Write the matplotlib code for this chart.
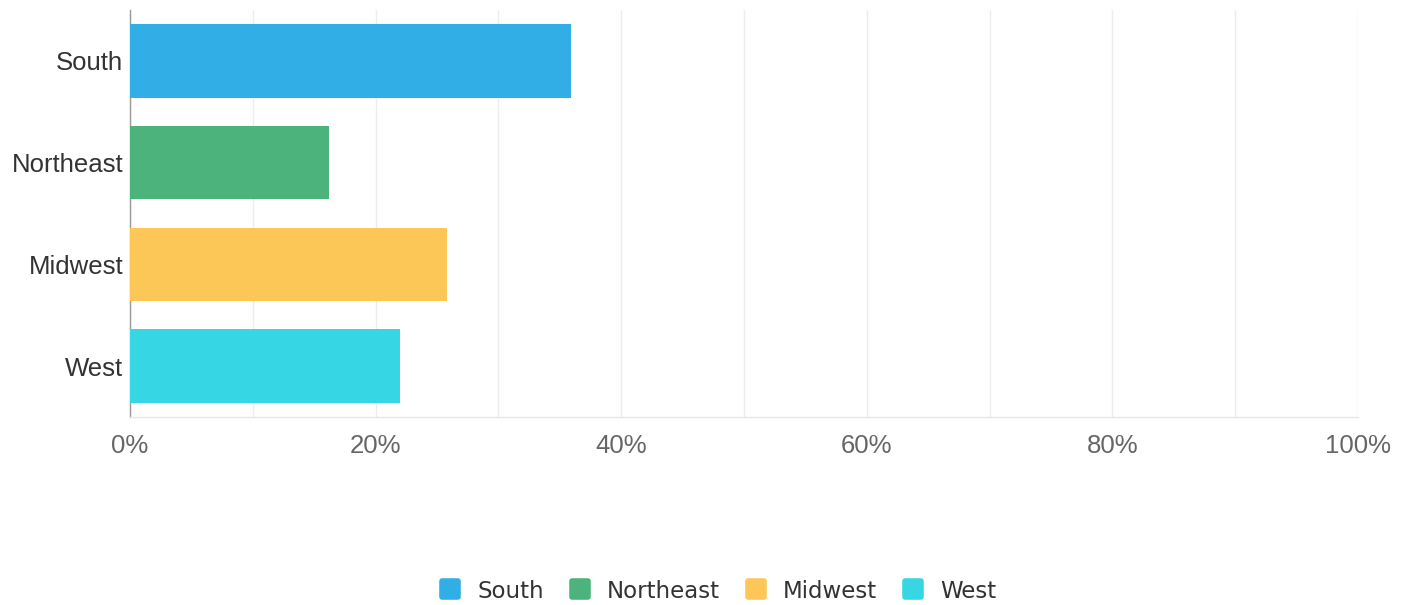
import matplotlib
matplotlib.use("Agg")
import matplotlib.pyplot as plt
from matplotlib.ticker import MultipleLocator, FuncFormatter
from matplotlib.lines import Line2D
from matplotlib.markers import MarkerStyle

categories = ["South", "Northeast", "Midwest", "West"]
values = [35.9, 16.2, 25.8, 22.0]
colors = ["#32AEE6", "#4BB37B", "#FCC757", "#37D6E4"]
xticks = [0, 20, 40, 60, 80, 100]

W, H = 1410, 605
fig = plt.figure(figsize=(W / 100, H / 100), dpi=100)
ax = fig.add_axes([130 / W, (H - 417) / H, (1358 - 130) / W, (417 - 10) / H])

ypos = list(range(len(categories)))
ax.barh(ypos, values, height=0.72, color=colors, zorder=3)
ax.set_ylim(len(categories) - 0.5, -0.5)
ax.set_xlim(0, 100)
ax.set_yticks(ypos)
ax.set_yticklabels(categories, fontsize=18.5, color="#333333", family="Liberation Sans")
ax.set_xticks(xticks)
ax.xaxis.set_minor_locator(MultipleLocator(10))
ax.xaxis.set_major_formatter(FuncFormatter(lambda v, p: f"{v:.0f}%"))
for lbl in ax.get_xticklabels():
    lbl.set_fontsize(18.5)
    lbl.set_color("#666666")
    lbl.set_family("Liberation Sans")
ax.tick_params(axis="y", length=0, pad=5)
ax.tick_params(axis="x", which="both", length=0, pad=12)
ax.grid(axis="x", which="both", color="#EDEDED", linewidth=1, zorder=0)
for s in ["top", "right"]:
    ax.spines[s].set_visible(False)
ax.spines["left"].set_color("#999999")
ax.spines["left"].set_linewidth(1)
ax.spines["bottom"].set_color("#E6E6E6")
ax.spines["bottom"].set_linewidth(1)

mk = MarkerStyle("s", joinstyle="round")
handles = [Line2D([0], [0], marker=mk, linestyle="none", markersize=11,
                  markeredgewidth=4, markerfacecolor=c, markeredgecolor=c) for c in colors]
leg = fig.legend(handles, categories, loc="center", bbox_to_anchor=(715 / W, (H - 591) / H),
                 ncol=4, frameon=False, handletextpad=0.48, columnspacing=0.87,
                 handlelength=1.4, prop={"family": "DejaVu Sans", "size": 16.5})
for t in leg.get_texts():
    t.set_color("#333333")

fig.savefig("out.png", dpi=100, facecolor="white")
